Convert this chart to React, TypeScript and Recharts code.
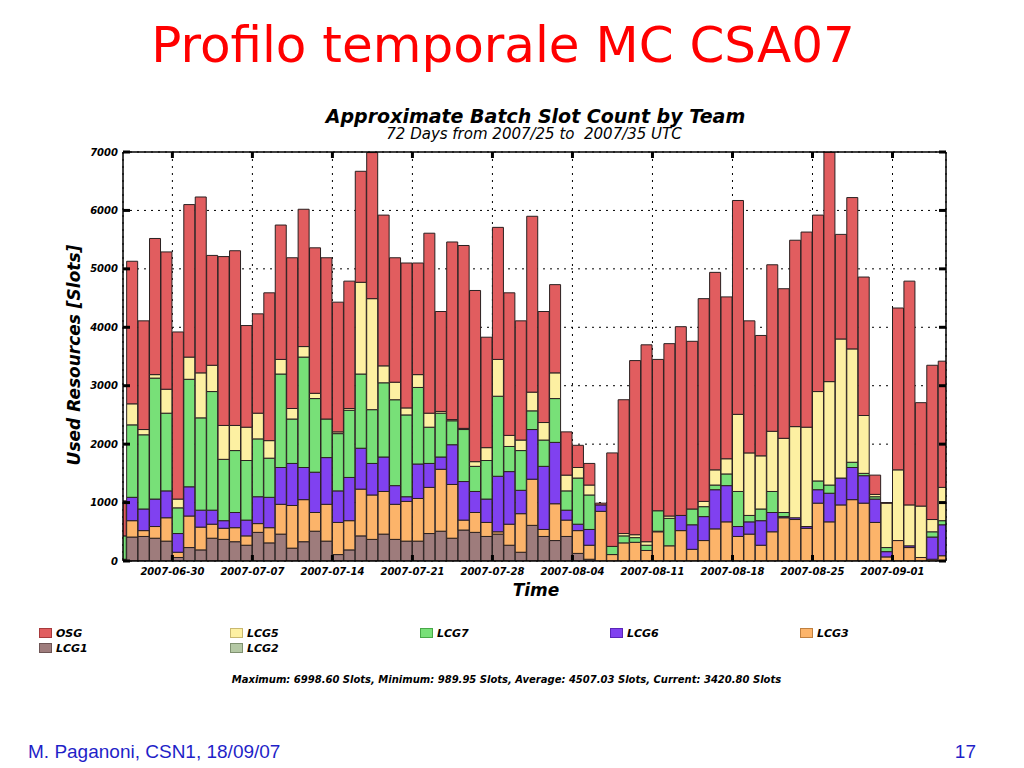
import React from 'react';
import { BarChart, Bar, XAxis, YAxis, CartesianGrid } from 'recharts';

// ---------- data ----------
const DAYS = [
  '2007-06-25', '2007-06-26', '2007-06-27', '2007-06-28', '2007-06-29', '2007-06-30',
  '2007-07-01', '2007-07-02', '2007-07-03', '2007-07-04', '2007-07-05', '2007-07-06', '2007-07-07',
  '2007-07-08', '2007-07-09', '2007-07-10', '2007-07-11', '2007-07-12', '2007-07-13', '2007-07-14',
  '2007-07-15', '2007-07-16', '2007-07-17', '2007-07-18', '2007-07-19', '2007-07-20', '2007-07-21',
  '2007-07-22', '2007-07-23', '2007-07-24', '2007-07-25', '2007-07-26', '2007-07-27', '2007-07-28',
  '2007-07-29', '2007-07-30', '2007-07-31', '2007-08-01', '2007-08-02', '2007-08-03', '2007-08-04',
  '2007-08-05', '2007-08-06', '2007-08-07', '2007-08-08', '2007-08-09', '2007-08-10', '2007-08-11',
  '2007-08-12', '2007-08-13', '2007-08-14', '2007-08-15', '2007-08-16', '2007-08-17', '2007-08-18',
  '2007-08-19', '2007-08-20', '2007-08-21', '2007-08-22', '2007-08-23', '2007-08-24', '2007-08-25',
  '2007-08-26', '2007-08-27', '2007-08-28', '2007-08-29', '2007-08-30', '2007-08-31', '2007-09-01',
  '2007-09-02', '2007-09-03', '2007-09-04', '2007-09-05',
];

const OSG = [
  600, 2440, 1860, 2330, 2350, 2860, 2610, 3010, 1880, 2890, 2990, 1740, 1700,
  2530, 2300, 2580, 2350, 2490, 2760, 2220, 2180, 1900, 2500, 2580, 2130, 2480,
  1910, 3080, 1710, 3040, 3130, 2930, 1890, 2260, 2440, 2040, 3010, 1900, 1510,
  740, 380, 370, 30, 1600, 2290, 2980, 3370, 2590, 2950, 3230, 2870, 3470,
  3380, 2770, 3660, 2260, 2060, 2850, 2560, 3190, 3340, 3020, 3929, 1790, 2590,
  2370, 330, 10, 2770, 3830, 1770, 2640, 2160,
];
const LCG5 = [
  0, 360, 90, 60, 410, 150, 380, 770, 450, 580, 430, 570, 440,
  300, 250, 180, 180, 90, 0, 30, 30, 1570, 1900, 290, 300, 120,
  220, 240, 30, 20, 20, 80, 220, 630, 190, 180, 320, 300, 440,
  270, 180, 170, 0, 0, 40, 50, 60, 0, 40, 0, 0, 90,
  260, 260, 1320, 1070, 910, 1030, 1270, 1560, 1700, 1530, 1770, 2380, 1940,
  990, 40, 760, 1210, 700, 880, 210, 570,
];
const LCG7 = [
  400, 1240, 1270, 2070, 1330, 440, 1840, 1580, 2030, 1050, 1060, 1020, 990,
  670, 1600, 760, 1890, 1260, 660, 980, 1150, 1270, 920, 1270, 1470, 1400,
  1310, 620, 750, 410, 890, 430, 660, 1370, 430, 680, 320, 450, 750,
  330, 790, 590, 0, 140, 120, 80, 90, 350, 470, 0, 270, 170,
  80, 200, 600, 110, 200, 360, 70, 0, 0, 150, 140, 0, 90,
  40, 40, 70, 0, 0, 0, 90, 70,
];
const LCG6 = [
  0, 400, 370, 470, 460, 320, 500, 290, 240, 130, 260, 270, 460,
  520, 630, 720, 550, 690, 800, 540, 740, 700, 540, 590, 320, 80,
  590, 410, 210, 680, 660, 360, 400, 950, 900, 400, 850, 1080, 1050,
  170, 110, 270, 110, 0, 0, 0, 0, 10, 0, 260, 420, 410,
  670, 620, 170, 210, 420, 330, 20, 30, 30, 230, 490, 460, 550,
  470, 400, 90, 0, 30, 0, 380, 530,
];
const LCG3 = [
  30, 280, 100, 200, 400, 90, 540, 390, 240, 190, 240, 160, 150,
  260, 510, 730, 720, 320, 630, 550, 500, 800, 760, 730, 600, 680,
  730, 790, 1060, 920, 170, 340, 240, 40, 360, 660, 790, 120, 630,
  280, 390, 240, 850, 110, 310, 320, 180, 500, 260, 520, 200, 350,
  550, 670, 420, 460, 270, 500, 740, 710, 560, 990, 670, 960, 1050,
  990, 660, 70, 350, 230, 60, 30, 90,
];
const LCG1 = [
  0, 410, 420, 390, 340, 60, 230, 190, 390, 370, 330, 270, 490,
  310, 460, 220, 330, 510, 340, 110, 190, 430, 370, 460, 370, 340,
  340, 470, 510, 390, 530, 490, 420, 460, 270, 150, 610, 420, 350,
  420, 130, 30, 0, 0, 0, 0, 0, 0, 0, 0, 0, 0,
  0, 0, 0, 0, 0, 0, 0, 0, 0, 0, 0, 0, 0,
  0, 0, 0, 0, 0, 0, 0, 0,
];
const LCG2 = [
  0, 0, 0, 0, 0, 0, 0, 0, 0, 0, 0, 0, 0,
  0, 0, 0, 0, 0, 0, 0, 0, 0, 0, 0, 0, 0,
  0, 0, 0, 0, 0, 0, 0, 0, 0, 0, 0, 0, 0,
  0, 0, 0, 0, 0, 0, 0, 0, 0, 0, 0, 0, 0,
  0, 0, 0, 0, 0, 0, 0, 0, 0, 0, 0, 0, 0,
  0, 0, 0, 0, 0, 0, 0, 0,
];

const TICK_DATES = [
  '2007-06-30', '2007-07-07', '2007-07-14', '2007-07-21', '2007-07-28',
  '2007-08-04', '2007-08-11', '2007-08-18', '2007-08-25', '2007-09-01',
];
const Y_TICKS = [0, 1000, 2000, 3000, 4000, 5000, 6000, 7000];

const SERIES = [
  { key: 'LCG1', values: LCG1, color: '#9e7c7c', border: '#6e5555' },
  { key: 'LCG2', values: LCG2, color: '#b4c8a4', border: '#7f9170' },
  { key: 'LCG3', values: LCG3, color: '#fcb46a', border: '#c08040' },
  { key: 'LCG6', values: LCG6, color: '#8041f0', border: '#5a25b8' },
  { key: 'LCG7', values: LCG7, color: '#78e078', border: '#48a848' },
  { key: 'LCG5', values: LCG5, color: '#fdf0a2', border: '#c9b870' },
  { key: 'OSG', values: OSG, color: '#e15d5f', border: '#a83a3c' },
];

const LEGEND_ORDER = ['OSG', 'LCG5', 'LCG7', 'LCG6', 'LCG3', 'LCG1', 'LCG2'];

const STATS_TEXT =
  'Maximum: 6998.60 Slots, Minimum: 989.95 Slots, Average: 4507.03 Slots, Current: 3420.80 Slots';

// ---------- derived table ----------
const rows = DAYS.map((d, i) => {
  const r: any = { i, day: d };
  SERIES.forEach((s) => {
    r[s.key] = s.values[i];
  });
  return r;
});
const tickPositions = TICK_DATES.map((d) => DAYS.indexOf(d) - 0.5);
const tickLabel = (v: number) => {
  const idx = tickPositions.findIndex((p) => Math.abs(p - v) < 1e-6);
  return idx >= 0 ? TICK_DATES[idx] : '';
};

// ---------- styles ----------
const FONT = 'DejaVu Sans';
const boldItalic: any = { fontFamily: FONT, fontWeight: 'bold', fontStyle: 'italic' };

// ---------- ticks ----------
const BottomTick = (props: any) => {
  const { x, y, payload } = props;
  const axisY = y - 6;
  return (
    <g>
      <line x1={x} x2={x} y1={axisY} y2={axisY - 6} stroke="#000" strokeWidth={3} />
      <text x={x} y={y + 8} textAnchor="middle" fontSize={10} fill="#000" {...boldItalic}>
        {tickLabel(payload.value)}
      </text>
    </g>
  );
};
const TopTick = (props: any) => {
  const { x, y } = props;
  return <line x1={x} x2={x} y1={y} y2={y + 6} stroke="#000" strokeWidth={3} />;
};
const LeftTick = (props: any) => {
  const { x, y, payload } = props;
  const axisX = x + 5;
  return (
    <g>
      <line x1={axisX} x2={axisX + 7} y1={y} y2={y} stroke="#000" strokeWidth={3} />
      <text x={x} y={y + 3.5} textAnchor="end" fontSize={10} fill="#000" {...boldItalic}>
        {payload.value}
      </text>
    </g>
  );
};
const RightTick = (props: any) => {
  const { x, y } = props;
  return <line x1={x} x2={x - 7} y1={y} y2={y} stroke="#000" strokeWidth={3} />;
};

const LEGEND_SLOTS = [
  { x: 39, y: 628 },
  { x: 230, y: 628 },
  { x: 420, y: 628 },
  { x: 610, y: 628 },
  { x: 800, y: 628 },
  { x: 39, y: 643 },
  { x: 230, y: 643 },
];

export default function App() {
  return (
    <div
      style={{
        position: 'absolute',
        left: 0,
        top: 0,
        width: 1024,
        height: 768,
        background: '#fff',
        overflow: 'hidden',
      }}
    >
      {/* slide title */}
      <div
        style={{
          position: 'absolute',
          left: 0,
          top: 20,
          width: 1006,
          textAlign: 'center',
          fontFamily: FONT,
          fontSize: 50,
          lineHeight: '50px',
          color: '#ff0000',
          whiteSpace: 'pre',
        }}
      >
        Profilo temporale MC CSA07
      </div>

      {/* chart title */}
      <div
        style={{
          position: 'absolute',
          left: 0,
          top: 107,
          width: 1071,
          textAlign: 'center',
          fontSize: 19,
          lineHeight: '19px',
          color: '#000',
          whiteSpace: 'pre',
          ...boldItalic,
        }}
      >
        Approximate Batch Slot Count by Team
      </div>
      <div
        style={{
          position: 'absolute',
          left: 0,
          top: 127,
          width: 1068,
          textAlign: 'center',
          fontFamily: FONT,
          fontStyle: 'italic',
          fontSize: 15,
          lineHeight: '15px',
          color: '#000',
          whiteSpace: 'pre',
        }}
      >
        {'72 Days from 2007/25 to  2007/35 UTC'}
      </div>

      {/* chart */}
      <div style={{ position: 'absolute', left: 0, top: 0 }}>
        <BarChart
          width={1024}
          height={768}
          data={rows}
          margin={{ top: 142, right: 68, bottom: 177, left: 83 }}
          barCategoryGap={0}
          barGap={0}
        >
          <CartesianGrid
            xAxisId="b"
            yAxisId="l"
            stroke="#000"
            strokeWidth={1}
            strokeDasharray="2 5"
          />
          <XAxis
            xAxisId="b"
            dataKey="i"
            type="number"
            domain={[0.18, 72.18]}
            ticks={tickPositions}
            interval={0}
            allowDataOverflow
            height={30}
            tickSize={0}
            tickMargin={6}
            tickLine={false}
            axisLine={{ stroke: '#000', strokeWidth: 1.5 }}
            tick={<BottomTick />}
          />
          <XAxis
            xAxisId="t"
            orientation="top"
            dataKey="i"
            type="number"
            domain={[0.18, 72.18]}
            ticks={tickPositions}
            interval={0}
            allowDataOverflow
            height={10}
            tickSize={0}
            tickMargin={0}
            tickLine={false}
            axisLine={{ stroke: '#000', strokeWidth: 1.5 }}
            tick={<TopTick />}
          />
          <YAxis
            yAxisId="l"
            type="number"
            domain={[0, 7000]}
            ticks={Y_TICKS}
            interval={0}
            allowDataOverflow
            width={40}
            tickSize={0}
            tickMargin={5}
            tickLine={false}
            axisLine={{ stroke: '#000', strokeWidth: 1.5 }}
            tick={<LeftTick />}
          />
          <YAxis
            yAxisId="r"
            orientation="right"
            type="number"
            domain={[0, 7000]}
            ticks={Y_TICKS}
            interval={0}
            allowDataOverflow
            width={10}
            tickSize={0}
            tickMargin={0}
            tickLine={false}
            axisLine={{ stroke: '#000', strokeWidth: 1.5 }}
            tick={<RightTick />}
          />
          {SERIES.map((s) => (
            <Bar
              key={s.key}
              dataKey={s.key}
              name={s.key}
              stackId="a"
              xAxisId="b"
              yAxisId="l"
              fill={s.color}
              stroke="#2a2020"
              strokeWidth={1}
              isAnimationActive={false}
            />
          ))}
        </BarChart>
      </div>

      {/* axis titles */}
      <div
        style={{
          position: 'absolute',
          left: 74 - 150,
          top: 355 - 10,
          width: 300,
          height: 20,
          lineHeight: '20px',
          textAlign: 'center',
          fontSize: 17,
          color: '#000',
          transform: 'rotate(-90deg)',
          whiteSpace: 'pre',
          ...boldItalic,
        }}
      >
        Used Resources [Slots]
      </div>
      <div
        style={{
          position: 'absolute',
          left: 0,
          top: 582,
          width: 1072,
          textAlign: 'center',
          fontSize: 17,
          lineHeight: '17px',
          color: '#000',
          ...boldItalic,
        }}
      >
        Time
      </div>

      {/* legend */}
      {LEGEND_ORDER.map((k, idx) => {
        const s = SERIES.find((q) => q.key === k)!;
        const p = LEGEND_SLOTS[idx];
        return (
          <React.Fragment key={k}>
            <div
              style={{
                position: 'absolute',
                left: p.x,
                top: p.y,
                width: 11,
                height: 8,
                background: s.color,
                border: `1px solid ${s.border}`,
              }}
            />
            <div
              style={{
                position: 'absolute',
                left: p.x + 17,
                top: p.y,
                fontSize: 11,
                lineHeight: '11px',
                color: '#000',
                whiteSpace: 'pre',
                ...boldItalic,
              }}
            >
              {k}
            </div>
          </React.Fragment>
        );
      })}

      {/* stats */}
      <div
        style={{
          position: 'absolute',
          left: 0,
          top: 675,
          width: 1013,
          textAlign: 'center',
          fontSize: 10,
          lineHeight: '10px',
          color: '#000',
          whiteSpace: 'pre',
          ...boldItalic,
        }}
      >
        {STATS_TEXT}
      </div>

      {/* footer */}
      <div
        style={{
          position: 'absolute',
          left: 28,
          top: 742,
          fontFamily: 'Liberation Sans',
          fontSize: 19,
          lineHeight: '19px',
          color: '#1f1fc8',
          whiteSpace: 'pre',
        }}
      >
        M. Paganoni, CSN1, 18/09/07
      </div>
      <div
        style={{
          position: 'absolute',
          right: 1024 - 976,
          top: 742,
          fontFamily: 'Liberation Sans',
          fontSize: 19,
          lineHeight: '19px',
          color: '#1f1fc8',
        }}
      >
        17
      </div>
    </div>
  );
}
